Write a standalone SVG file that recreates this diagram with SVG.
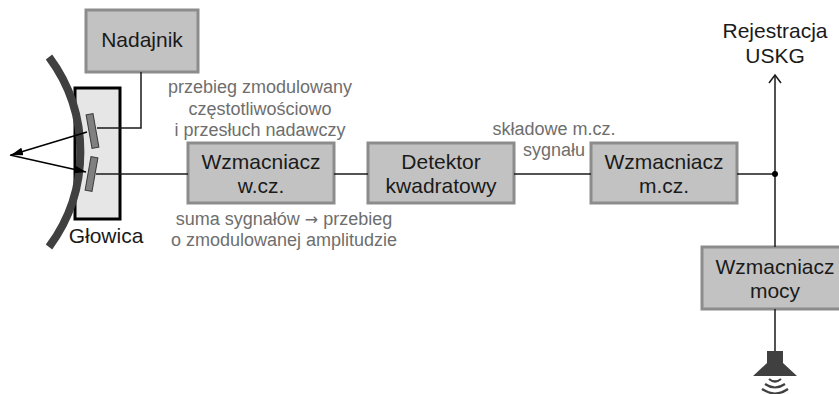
<svg xmlns="http://www.w3.org/2000/svg" width="839" height="394" viewBox="0 0 839 394">
  <defs>
    <style>
      .box { fill: #c2c2c2; stroke: #8c8c8c; stroke-width: 3; }
      .lbl { font-family: "Liberation Sans", Arial, sans-serif; font-size: 21px; fill: #1a1a1a; text-anchor: middle; }
      .note { font-family: "Liberation Sans", Arial, sans-serif; font-size: 18px; fill: #6e6e6e; text-anchor: middle; }
      .sym { font-family: "DejaVu Sans", sans-serif; font-size: 16px; }
      .wire { fill: none; stroke: #1a1a1a; stroke-width: 1.5; }
      .ray { fill: none; stroke: #000; stroke-width: 1.6; }
      .xdcr { fill: #808080; stroke: #3a3a3a; stroke-width: 1; }
      .wave { fill: none; stroke: #404040; stroke-width: 2.2; }
    </style>
    <marker id="head" viewBox="0 0 12 8" refX="12" refY="4" markerWidth="12" markerHeight="8" markerUnits="userSpaceOnUse" orient="auto">
      <path d="M0,0 L12,4 L0,8 Z" fill="#000"/>
    </marker>
  </defs>

  <!-- probe head -->
  <g id="glowica">
    <rect x="75" y="88" width="45" height="131" fill="#e6e6e6" stroke="#000" stroke-width="3"/>
    <path d="M49,57 A159.5,159.5 0 0 1 49,247" fill="none" stroke="#404040" stroke-width="8"/>
    <rect class="xdcr" x="89" y="114" width="7" height="34" transform="rotate(-10 92.5 131)"/>
    <rect class="xdcr" x="88" y="157" width="7" height="34" transform="rotate(10 91.5 174)"/>
    <text class="lbl" x="106" y="243">Głowica</text>
  </g>

  <g id="nadajnik">
    <rect class="box" x="86" y="10" width="112" height="62"/>
    <text class="lbl" x="142" y="47">Nadajnik</text>
  </g>

  <g id="wzm-wcz">
    <rect class="box" x="188" y="143" width="146" height="60"/>
    <text class="lbl" x="261" y="169">Wzmacniacz</text>
    <text class="lbl" x="261" y="193">w.cz.</text>
  </g>

  <g id="detektor">
    <rect class="box" x="368" y="143" width="146" height="60"/>
    <text class="lbl" x="441" y="169">Detektor</text>
    <text class="lbl" x="441" y="193">kwadratowy</text>
  </g>

  <g id="wzm-mcz">
    <rect class="box" x="591" y="143" width="146" height="60"/>
    <text class="lbl" x="664" y="169">Wzmacniacz</text>
    <text class="lbl" x="664" y="193">m.cz.</text>
  </g>

  <g id="wzm-mocy">
    <rect class="box" x="702" y="247" width="146" height="62"/>
    <text class="lbl" x="775" y="274">Wzmacniacz</text>
    <text class="lbl" x="775" y="298">mocy</text>
  </g>

  <g id="rejestracja">
    <text class="lbl" x="775" y="38">Rejestracja</text>
    <text class="lbl" x="775" y="63">USKG</text>
  </g>

  <g id="glosnik">
    <path d="M767,351 H783 V363 L797,376 H753 L767,363 Z" fill="#404040"/>
    <path class="wave" d="M769,379 Q775,384 781,379"/>
    <path class="wave" d="M765,384 Q775,391 785,384"/>
    <path class="wave" d="M762,389 Q775,398 788,389"/>
  </g>

  <!-- signal notes -->
  <g id="opisy">
    <text class="note" x="260" y="93">przebieg zmodulowany</text>
    <text class="note" x="260" y="115">częstotliwościowo</text>
    <text class="note" x="260" y="136">i przesłuch nadawczy</text>
    <text class="note" x="284" y="225">suma sygnałów <tspan class="sym">→</tspan> przebieg</text>
    <text class="note" x="284" y="246">o zmodulowanej amplitudzie</text>
    <text class="note" x="554" y="135">składowe m.cz.</text>
    <text class="note" x="554" y="156">sygnału</text>
  </g>

  <g id="polaczenia">
    <polyline class="wire" points="141,72 141,128 97,128"/>
    <line class="wire" x1="96" y1="174" x2="188" y2="174"/>
    <line class="wire" x1="334" y1="174" x2="368" y2="174"/>
    <line class="wire" x1="514" y1="174" x2="591" y2="174"/>
    <line class="wire" x1="737" y1="174" x2="775" y2="174"/>
    <line class="wire" x1="775" y1="75" x2="775" y2="247"/>
    <polyline class="wire" points="769,83 775,75 781,83"/>
    <line class="wire" x1="775" y1="309" x2="775" y2="351"/>
    <circle cx="775" cy="174" r="3" fill="#000"/>
    <line class="ray" x1="87" y1="132" x2="11" y2="155" marker-end="url(#head)"/>
    <line class="ray" x1="10" y1="155" x2="86" y2="172" marker-end="url(#head)"/>
  </g>
</svg>
